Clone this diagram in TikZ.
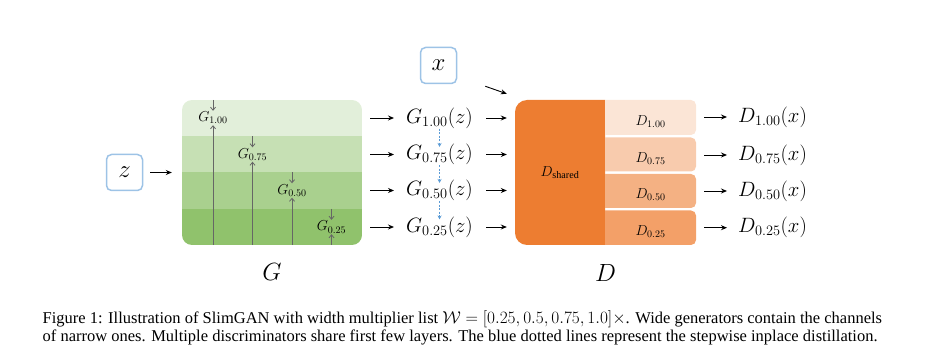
\documentclass[tikz,border=0pt]{standalone}
\usepackage{amsmath}
\usepackage{fontspec}
\setmainfont{Liberation Serif}
\usepackage{tikz}
\usetikzlibrary{positioning,arrows.meta}
\usepackage{xcolor}

\definecolor{bandA}{HTML}{E2EFDA}
\definecolor{bandB}{HTML}{C6E0B4}
\definecolor{bandC}{HTML}{A9D08E}
\definecolor{bandD}{HTML}{90C26C}
\definecolor{inblue}{HTML}{9DC3E6}
\definecolor{distblue}{HTML}{5B9BD5}
\definecolor{dshared}{HTML}{ED7D31}
\definecolor{dA}{HTML}{FBE5D6}
\definecolor{dB}{HTML}{F8CBAD}
\definecolor{dC}{HTML}{F4B183}
\definecolor{dD}{HTML}{F3A068}

\begin{document}
\begin{tikzpicture}[x=1pt,y=-1pt,>=Stealth,
  inbox/.style={draw=inblue, line width=1.5pt, rounded corners=5pt, minimum width=36pt,
    minimum height=36pt, inner sep=0pt, font=\fontsize{24}{28}\selectfont},
  outlabel/.style={anchor=west, inner sep=1pt, font=\fontsize{20}{24}\selectfont},
  sublabel/.style={inner sep=1pt, font=\fontsize{14.5}{17}\selectfont},
  biglabel/.style={inner sep=1pt, font=\fontsize{25}{30}\selectfont},
  flow/.style={->, line width=0.9pt, >={Stealth[length=6pt,width=5pt]}},
  chan/.style={->, black!60, line width=0.8pt, >={Straight Barb[length=3pt,width=5pt]}},
  distill/.style={->, distblue, dash pattern=on 2pt off 1.5pt, line width=0.9pt,
    shorten <=-1pt, shorten >=-4pt, >={Stealth[length=4pt,width=4pt]}}]

\useasboundingbox (0,0) rectangle (936,363);

% generator G
\begin{scope}
  \clip[rounded corners=10pt] (182,100) rectangle (362,245);
  \foreach \c/\t/\b in {bandA/100/136.5, bandB/136.5/172.5, bandC/172.5/209, bandD/209/245}
    \fill[\c] (182,\t) rectangle (362,\b);
\end{scope}
\node[minimum width=180pt, minimum height=145pt, inner sep=0pt] (gen) at (272,172.5) {};

\foreach \w/\x/\t [count=\i] in {1.00/213/100, 0.75/252.5/136.5, 0.50/292/172.5, 0.25/331.5/209}{
  \node[sublabel] (gw\i) at (\x,\t+18) {$G_{\w}$};
  \draw[chan] (\x,\t) -- (gw\i.north);
  \draw[chan] (\x,245) -- (gw\i.south);
}

\node[biglabel] (glabel) at (272,272) {$G$};

% input z
\node[inbox] (zin) at (124.5,172.5) {$z$};
\draw[flow, shorten <=7pt, shorten >=10pt] (zin.east) -- (zin.east -| gen.west);

% outputs of G
\foreach \w/\y [count=\i] in {1.00/118, 0.75/154.5, 0.50/190.5, 0.25/227}{
  \node[outlabel] (g\i) at (405,\y) {$G_{\w}(z)$};
  \draw[flow, shorten <=8pt, shorten >=11pt] (gen.east |- g\i.west) -- (g\i.west);
}
\foreach \i/\j in {1/2, 2/3, 3/4}
  \draw[distill] (g\i.south) -- (g\j.north);

% input x
\node[inbox] (xin) at (438.5,65.5) {$x$};

% discriminator D
\begin{scope}
  \clip (500,90) rectangle (605,255);
  \fill[dshared, rounded corners=12pt] (515,100) rectangle (625,245);
\end{scope}
\node[sublabel, minimum width=90pt, minimum height=145pt, inner sep=0pt] (dsh) at (560,172.5) {$D_{\mathrm{shared}}$};

\foreach \g in {1,...,4}
  \draw[flow, shorten <=12pt, shorten >=8pt] (g\g.east) -- (dsh.west |- g\g.east);
\draw[flow] ([shift={(28pt,-2pt)}]xin.south east) -- ([shift={(-8pt,6pt)}]dsh.north west);

\foreach \c/\t/\b/\w/\y [count=\i] in {dA/100/135/1.00/117, dB/137.5/171.5/0.75/155,
    dC/174/208/0.50/191, dD/210.5/245/0.25/227.7}{
  \begin{scope}
    \clip (605,\t) rectangle (700,\b);
    \fill[\c, rounded corners=5pt] (595,\t) rectangle (696,\b);
  \end{scope}
  \node[minimum width=91pt, minimum height=34pt, inner sep=0pt] (d\i) at (650.5,{(\t+\b)/2}) {};
  \node[sublabel, yshift=-4pt] (dl\i) at (d\i) {$D_{\w}$};
  \node[outlabel] (o\i) at (737,\y) {$D_{\w}(x)$};
  \draw[flow, shorten <=8pt, shorten >=10pt] (d\i.east |- o\i.west) -- (o\i.west);
}

\node[biglabel] (dlabel) at (605.5,273) {$D$};

% caption
\node[anchor=north west, align=left, inner sep=0pt, font=\fontsize{16.5}{18}\selectfont] (caption) at (42.5,310)
  {Figure 1: Illustration of SlimGAN with width multiplier list $\mathcal{W}=[0.25,0.5,0.75,1.0]\times$. Wide generators contain the channels\\
   of narrow ones. Multiple discriminators share first few layers. The blue dotted lines represent the stepwise inplace distillation.};

\end{tikzpicture}
\end{document}
